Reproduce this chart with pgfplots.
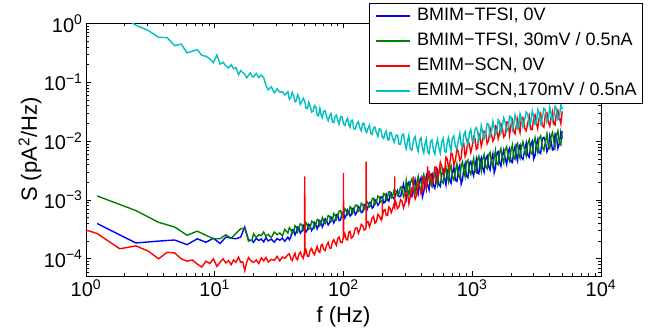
\documentclass[border=0pt]{standalone}
\usepackage{fontspec}
\setmainfont{Liberation Sans}
\usepackage{pgfplots}
\usepackage{pgfplotstable}
\pgfplotsset{compat=1.18}
\definecolor{mblue}{RGB}{0,0,255}
\definecolor{mgreen}{RGB}{0,128,0}
\definecolor{mred}{RGB}{255,0,0}
\definecolor{mcyan}{RGB}{0,191,191}
\newcommand{\ep}[1]{10\textsuperscript{#1}}

% BMIM-TFSI, 0V
\pgfplotstableread{
f S
1.22 3.98e-4
2.44 1.86e-4
3.66 2.00e-4
4.88 2.09e-4
6.10 1.74e-4
7.32 2.19e-4
8.54 1.91e-4
9.76 2.24e-4
11.0 1.82e-4
12.2 2.34e-4
13.4 2.24e-4
14.6 2.19e-4
15.9 2.34e-4
17.1 3.47e-4
18.3 2.09e-4
19.5 2.04e-4
20 1.91e-4
21 2.23e-4
22 2.05e-4
23 2.17e-4
24 1.94e-4
25 2.29e-4
26 2.01e-4
27.5 2.15e-4
29 1.92e-4
30.5 2.21e-4
32 2.07e-4
33.5 2.25e-4
35 1.98e-4
37 2.33e-4
38 2.11e-4
39 2.34e-4
40 3.13e-4
41 3.08e-4
42 2.54e-4
43 2.87e-4
44 3.47e-4
45 3.36e-4
46.2 2.72e-4
47.5 2.96e-4
48.7 3.67e-4
50 3.24e-4
51.2 2.85e-4
52.5 3.16e-4
53.7 3.85e-4
55 3.65e-4
56.5 3.02e-4
58 3.27e-4
59.5 4.12e-4
61 3.77e-4
62.5 3.24e-4
64 3.73e-4
65.5 4.42e-4
67 4.27e-4
68.5 3.47e-4
70 3.85e-4
72 4.79e-4
74 4.39e-4
76 3.76e-4
78 4.06e-4
80 5.13e-4
82 4.79e-4
84 4.07e-4
86 4.53e-4
88 5.62e-4
90 5.68e-4
92.5 4.47e-4
95 4.57e-4
97.5 6.17e-4
100 5.97e-4
102.5 4.90e-4
105 5.52e-4
107.5 6.76e-4
110 6.19e-4
112.5 5.31e-4
115 5.60e-4
117.5 7.16e-4
120 7.24e-4
123.5 5.62e-4
127 6.17e-4
130.5 7.76e-4
134 7.31e-4
137.5 6.10e-4
141 6.25e-4
144.5 8.32e-4
148 8.17e-4
151.5 6.61e-4
155 7.66e-4
159 9.12e-4
163 9.08e-4
167 7.24e-4
171 7.62e-4
175.5 1.01e-3
180 9.51e-4
185 8.13e-4
190 8.79e-4
195 1.12e-3
200 1.13e-3
205 8.91e-4
210 9.12e-4
215 1.22e-3
220 1.00e-3
225 9.55e-4
230 1.24e-3
235 1.30e-3
240 1.12e-3
247.5 1.04e-3
255 1.28e-3
262.5 1.45e-3
270 1.14e-3
277.5 1.15e-3
285 1.47e-3
292 1.86e-3
300 1.38e-3
307 1.07e-3
315 1.91e-3
322 2.02e-3
330 1.27e-3
340 1.15e-3
350 1.67e-3
360 2.19e-3
370 1.50e-3
380 1.26e-3
390 2.13e-3
400 2.40e-3
410 1.12e-3
420 1.36e-3
430 2.06e-3
440 2.57e-3
450 1.81e-3
462 1.48e-3
475 2.56e-3
487 2.79e-3
500 1.79e-3
512 1.58e-3
525 2.24e-3
537 2.99e-3
550 1.83e-3
565 1.70e-3
580 2.73e-3
595 3.20e-3
610 2.28e-3
625 1.80e-3
640 3.16e-3
655 3.39e-3
670 2.15e-3
685 1.93e-3
700 2.84e-3
720 3.63e-3
740 2.19e-3
760 2.07e-3
780 3.37e-3
800 3.89e-3
820 1.86e-3
840 2.21e-3
860 3.43e-3
880 4.17e-3
900 2.58e-3
925 2.40e-3
950 4.16e-3
975 4.52e-3
1000 3.06e-3
1025 2.57e-3
1050 3.73e-3
1075 4.90e-3
1100 2.88e-3
1125 2.79e-3
1150 4.43e-3
1175 5.19e-3
1200 3.61e-3
1235 2.95e-3
1270 4.99e-3
1305 5.62e-3
1340 3.76e-3
1375 3.24e-3
1410 4.94e-3
1445 6.10e-3
1480 2.89e-3
1515 3.47e-3
1550 6.17e-3
1590 6.61e-3
1630 4.31e-3
1670 3.76e-3
1710 5.53e-3
1755 7.08e-3
1800 5.11e-3
1850 4.03e-3
1900 6.56e-3
1950 7.59e-3
2000 4.47e-3
2050 4.32e-3
2100 6.68e-3
2150 8.13e-3
2200 5.57e-3
2250 4.62e-3
2300 7.92e-3
2350 8.61e-3
2400 5.41e-3
2475 4.90e-3
2550 6.93e-3
2625 9.33e-3
2700 5.78e-3
2775 5.31e-3
2850 8.87e-3
2925 1.00e-2
3000 4.98e-3
3075 5.69e-3
3150 9.04e-3
3225 1.07e-2
3300 6.47e-3
3400 6.17e-3
3500 1.10e-2
3600 1.16e-2
3700 9.89e-3
3800 6.61e-3
3900 7.64e-3
4000 1.24e-2
4100 9.82e-3
4200 7.08e-3
4300 7.19e-3
4400 1.33e-2
4500 1.26e-2
4625 7.59e-3
4750 8.99e-3
4875 1.43e-2
5000 1.10e-2
}\bluetab

% BMIM-TFSI, 30mV / 0.5nA
\pgfplotstableread{
f S
1.22 1.17e-3
2.44 6.61e-4
3.66 4.17e-4
4.88 3.47e-4
6.10 2.51e-4
7.32 2.95e-4
8.54 2.51e-4
9.76 2.19e-4
11.0 2.19e-4
12.2 2.57e-4
13.4 2.24e-4
14.6 2.69e-4
15.9 3.24e-4
17.1 3.31e-4
18.3 2.00e-4
19.5 2.09e-4
20 2.66e-4
21 2.32e-4
22 2.57e-4
23 2.48e-4
24 2.85e-4
25 2.40e-4
26 2.60e-4
27.5 2.29e-4
29 2.85e-4
30.5 2.57e-4
32 2.75e-4
33.5 2.45e-4
35 3.16e-4
37 2.75e-4
38 3.39e-4
39 3.13e-4
40 2.69e-4
41 2.85e-4
42 3.67e-4
43 3.47e-4
44 2.88e-4
45 3.35e-4
46.2 3.94e-4
47.5 3.80e-4
48.7 3.05e-4
50 3.31e-4
51.2 4.12e-4
52.5 3.72e-4
53.7 3.20e-4
55 3.31e-4
56.5 4.37e-4
58 4.22e-4
59.5 3.43e-4
61 3.85e-4
62.5 4.68e-4
64 4.62e-4
65.5 3.67e-4
67 3.94e-4
68.5 5.01e-4
70 4.47e-4
72 3.98e-4
74 4.42e-4
76 5.43e-4
78 5.25e-4
80 4.27e-4
82 4.52e-4
84 5.89e-4
86 5.55e-4
88 4.68e-4
90 5.35e-4
92.5 6.46e-4
95 6.61e-4
97.5 5.13e-4
100 5.55e-4
102.5 7.08e-4
105 6.58e-4
107.5 5.62e-4
110 5.92e-4
112.5 7.67e-4
115 7.24e-4
117.5 5.96e-4
120 6.55e-4
123.5 8.13e-4
127 8.20e-4
130.5 6.46e-4
134 6.61e-4
137.5 8.81e-4
141 8.43e-4
144.5 6.92e-4
148 7.80e-4
151.5 9.55e-4
155 8.75e-4
159 7.59e-4
163 8.09e-4
167 1.05e-3
171 1.07e-3
175.5 8.41e-4
180 9.33e-4
185 1.17e-3
190 1.11e-3
195 9.33e-4
200 9.68e-4
205 1.29e-3
210 1.26e-3
215 1.01e-3
220 1.16e-3
225 1.38e-3
230 1.37e-3
235 1.08e-3
240 1.13e-3
247.5 1.50e-3
255 1.41e-3
262.5 1.20e-3
270 1.30e-3
277.5 1.66e-3
285 1.67e-3
292 1.12e-3
300 1.23e-3
307 2.14e-3
315 1.45e-3
322 1.22e-3
330 1.95e-3
340 2.29e-3
350 1.66e-3
360 1.32e-3
370 1.95e-3
380 2.51e-3
390 1.55e-3
400 1.45e-3
410 2.29e-3
420 2.72e-3
430 2.00e-3
440 1.55e-3
450 2.69e-3
462 2.95e-3
475 1.91e-3
487 1.68e-3
500 2.40e-3
512 3.16e-3
525 2.19e-3
537 1.80e-3
550 2.95e-3
565 3.39e-3
580 2.04e-3
595 1.93e-3
610 2.88e-3
625 3.59e-3
640 2.51e-3
655 2.04e-3
670 3.47e-3
685 3.85e-3
700 2.51e-3
720 2.19e-3
740 3.09e-3
760 4.12e-3
780 2.57e-3
800 2.34e-3
820 3.72e-3
840 4.42e-3
860 3.16e-3
880 2.51e-3
900 4.37e-3
925 4.79e-3
950 3.09e-3
975 2.72e-3
1000 3.98e-3
1025 5.13e-3
1050 3.16e-3
1075 2.95e-3
1100 4.79e-3
1125 5.56e-3
1150 4.17e-3
1175 3.13e-3
1200 4.79e-3
1235 5.89e-3
1270 3.72e-3
1305 3.39e-3
1340 5.75e-3
1375 6.46e-3
1410 4.47e-3
1445 3.67e-3
1480 5.25e-3
1515 6.92e-3
1550 4.17e-3
1590 3.98e-3
1630 6.31e-3
1670 7.50e-3
1710 5.25e-3
1755 4.27e-3
1800 7.08e-3
1850 8.04e-3
1900 5.37e-3
1950 4.57e-3
2000 6.92e-3
2050 8.61e-3
2100 5.25e-3
2150 4.90e-3
2200 8.51e-3
2250 9.23e-3
2300 6.03e-3
2350 5.19e-3
2400 7.59e-3
2475 9.77e-3
2550 7.08e-3
2625 5.62e-3
2700 9.12e-3
2775 1.06e-2
2850 6.31e-3
2925 6.03e-3
3000 9.33e-3
3075 1.14e-2
3150 7.76e-3
3225 6.46e-3
3300 1.10e-2
3400 1.23e-2
3500 7.94e-3
3600 7.00e-3
3700 9.77e-3
3800 1.32e-2
3900 8.32e-3
4000 7.50e-3
4100 1.23e-2
4200 1.41e-2
4300 1.00e-2
4400 8.04e-3
4500 1.26e-2
4625 1.51e-2
4750 9.33e-3
4875 8.61e-3
5000 1.48e-2
}\greentab

% EMIM-SCN, 0V
\pgfplotstableread{
f S
0.61 4.37e-4
1.22 2.69e-4
1.83 1.48e-4
2.44 1.66e-4
3.05 1.35e-4
3.66 1.00e-4
4.27 1.29e-4
4.88 1.26e-4
5.49 1.00e-4
6.10 9.12e-5
6.71 9.55e-5
7.32 8.13e-5
7.93 7.24e-5
8.54 9.12e-5
9.15 8.32e-5
9.76 1.00e-4
10.4 7.41e-5
11.0 8.71e-5
11.6 1.00e-4
12.2 8.51e-5
12.8 9.33e-5
13.4 7.94e-5
14.0 9.55e-5
14.6 8.71e-5
15.3 1.07e-4
15.9 8.71e-5
16.5 8.91e-5
17.1 6.31e-5
17.7 8.71e-5
18.3 1.05e-4
18.9 9.55e-5
19.5 8.91e-5
20 8.71e-5
21 9.55e-5
22 8.32e-5
23 1.04e-4
24 9.23e-5
25 1.06e-4
26 8.81e-5
27.5 9.77e-5
29 9.44e-5
30.5 1.10e-4
32 9.23e-5
33.5 1.07e-4
35 1.02e-4
37 1.17e-4
38 1.22e-4
39 1.00e-4
40 9.33e-5
41 1.11e-4
42 1.24e-4
43 1.00e-4
44 9.66e-5
45 1.19e-4
46.2 1.30e-4
47.5 1.10e-4
48.7 1.02e-4
49.8 1.33e-4
50 2.51e-3
50.2 1.25e-4
51.2 1.40e-4
52.5 1.10e-4
53.7 1.10e-4
55 1.38e-4
56.5 1.50e-4
58 1.27e-4
59.5 1.17e-4
61 1.41e-4
62.5 1.62e-4
64 1.33e-4
65.5 1.29e-4
67 1.70e-4
68.5 1.76e-4
70 1.46e-4
72 1.38e-4
74 1.70e-4
76 1.91e-4
78 1.53e-4
80 1.51e-4
82 1.93e-4
84 2.11e-4
86 1.88e-4
88 1.70e-4
90 2.19e-4
92.5 2.34e-4
95 1.91e-4
97.5 1.88e-4
99.8 2.35e-4
100 2.88e-3
100.2 2.30e-4
102.5 2.63e-4
105 2.13e-4
107.5 2.09e-4
110 2.84e-4
112.5 2.92e-4
115 2.24e-4
117.5 2.34e-4
120 2.54e-4
123.5 3.31e-4
127 3.38e-4
130.5 2.72e-4
134 3.13e-4
137.5 3.85e-4
141 3.64e-4
144.5 3.09e-4
148 3.14e-4
149.8 3.50e-4
150 4.47e-3
150.2 3.60e-4
151.5 4.32e-4
155 4.29e-4
159 3.51e-4
163 4.10e-4
167 4.95e-4
171 5.25e-4
175.5 4.03e-4
180 4.28e-4
185 5.69e-4
190 5.30e-4
195 4.68e-4
199.8 5.27e-4
200 9.30e-4
200.2 5.20e-4
205 6.68e-4
210 6.85e-4
215 5.43e-4
220 5.50e-4
225 7.59e-4
230 7.21e-4
235 6.10e-4
240 6.90e-4
247.5 8.71e-4
249.8 8.00e-4
250 2.51e-3
250.2 8.20e-4
255 9.18e-4
262.5 7.16e-4
270 7.73e-4
277.5 1.02e-3
285 9.48e-4
292 7.33e-4
300 8.79e-4
307 1.38e-3
315 1.21e-3
322 8.61e-4
330 1.14e-3
340 1.62e-3
349.8 1.66e-3
350 2.51e-3
350.2 1.40e-3
360 1.04e-3
370 1.21e-3
380 2.00e-3
390 1.71e-3
400 1.27e-3
410 1.42e-3
420 2.45e-3
430 2.33e-3
440 1.55e-3
449.8 2.14e-3
450 3.72e-3
450.2 2.00e-3
462 2.95e-3
475 2.66e-3
487 1.88e-3
500 2.15e-3
512 3.63e-3
525 3.62e-3
537 2.29e-3
550 2.86e-3
565 4.42e-3
580 3.73e-3
595 2.82e-3
610 3.02e-3
625 5.37e-3
640 4.97e-3
655 3.35e-3
670 4.24e-3
685 6.31e-3
700 6.14e-3
720 3.94e-3
740 4.73e-3
760 7.41e-3
780 6.52e-3
800 4.68e-3
820 5.14e-3
840 8.91e-3
860 9.12e-3
880 5.50e-3
900 6.37e-3
925 1.02e-2
950 8.77e-3
975 6.38e-3
1000 8.28e-3
1025 1.19e-2
1050 1.11e-2
1075 7.24e-3
1100 7.59e-3
1125 1.33e-2
1150 1.19e-2
1175 8.13e-3
1200 9.91e-3
1235 1.48e-2
1270 1.44e-2
1305 9.02e-3
1340 1.03e-2
1375 1.66e-2
1410 1.32e-2
1445 1.00e-2
1480 1.10e-2
1515 1.82e-2
1550 1.73e-2
1590 1.10e-2
1630 1.37e-2
1670 1.97e-2
1710 1.76e-2
1755 1.17e-2
1800 1.26e-2
1850 2.11e-2
1900 2.09e-2
1950 1.26e-2
2000 1.93e-2
2050 2.26e-2
2100 1.46e-2
2150 1.33e-2
2200 1.87e-2
2250 2.37e-2
2300 1.69e-2
2350 1.40e-2
2400 2.34e-2
2475 2.51e-2
2550 1.67e-2
2625 1.50e-2
2700 2.05e-2
2775 2.66e-2
2850 1.58e-2
2925 1.57e-2
3000 2.49e-2
3075 2.79e-2
3150 2.03e-2
3225 1.64e-2
3300 2.42e-2
3400 2.92e-2
3500 1.83e-2
3600 1.72e-2
3700 2.95e-2
3800 3.05e-2
3900 2.12e-2
4000 1.80e-2
4100 2.59e-2
4200 3.20e-2
4300 1.95e-2
4400 1.88e-2
4500 2.92e-2
4625 3.35e-2
4750 2.51e-2
4875 1.97e-2
5000 3.22e-2
}\redtab

% EMIM-SCN, 170mV / 0.5nA
\pgfplotstableread{
f S
1.83 1.41
2.44 0.933
3.05 0.759
3.66 0.582
4.27 0.575
4.88 0.420
5.49 0.447
6.10 0.316
6.71 0.339
7.32 0.359
7.93 0.288
8.54 0.277
9.15 0.251
9.76 0.216
10.4 0.292
11.0 0.204
11.6 0.219
12.2 0.191
12.8 0.176
13.4 0.200
14.0 0.170
14.6 0.178
15.3 0.135
15.9 0.158
16.5 0.146
17.1 0.138
17.7 0.119
18.3 0.132
18.9 0.145
19.5 0.126
20 0.123
21 0.141
22 0.120
23 0.133
24 0.120
25 8.81e-2
26 7.41e-2
27.5 8.41e-2
29 6.61e-2
30.5 7.76e-2
32 6.84e-2
33.5 6.92e-2
35 6.10e-2
37 6.92e-2
38 5.13e-2
39 5.56e-2
40 6.76e-2
41 5.89e-2
42 4.68e-2
43 4.84e-2
44 6.17e-2
45 5.56e-2
46.2 4.22e-2
47.5 4.73e-2
48.7 5.37e-2
50 4.79e-2
51.2 3.59e-2
52.5 3.58e-2
53.7 4.62e-2
55 3.99e-2
56.5 3.13e-2
58 3.22e-2
59.5 4.03e-2
61 3.83e-2
62.5 2.75e-2
64 2.69e-2
65.5 3.63e-2
67 2.79e-2
68.5 2.51e-2
70 3.23e-2
72 3.27e-2
74 2.61e-2
76 2.24e-2
78 2.70e-2
80 2.95e-2
82 2.12e-2
84 2.07e-2
86 2.64e-2
88 2.79e-2
90 2.31e-2
92.5 1.95e-2
95 2.63e-2
97.5 2.60e-2
100 1.95e-2
102.5 1.84e-2
105 2.21e-2
107.5 2.45e-2
110 1.91e-2
112.5 1.72e-2
115 2.27e-2
117.5 2.29e-2
120 1.62e-2
123.5 1.60e-2
127 1.99e-2
130.5 2.14e-2
134 1.69e-2
137.5 1.50e-2
141 2.01e-2
144.5 2.00e-2
148 1.51e-2
151.5 1.40e-2
155 1.65e-2
159 1.86e-2
163 1.36e-2
167 1.30e-2
171 1.67e-2
175.5 1.74e-2
180 1.40e-2
185 1.20e-2
190 1.62e-2
195 1.58e-2
200 1.18e-2
205 1.11e-2
210 1.35e-2
215 1.48e-2
220 1.06e-2
225 1.04e-2
230 1.41e-2
235 1.38e-2
240 1.15e-2
247.5 9.55e-3
255 1.23e-2
262.5 1.27e-2
270 8.91e-3
277.5 8.91e-3
285 1.26e-2
292 1.33e-2
300 9.12e-3
307 7.50e-3
315 1.02e-2
322 1.26e-2
330 7.41e-3
340 7.00e-3
350 1.05e-2
360 1.19e-2
370 8.32e-3
380 6.68e-3
390 1.05e-2
400 1.14e-2
410 7.59e-3
420 6.38e-3
430 9.12e-3
440 1.08e-2
450 6.61e-3
462 6.10e-3
475 1.00e-2
487 1.05e-2
500 6.92e-3
512 6.03e-3
525 8.71e-3
537 1.07e-2
550 7.76e-3
565 6.24e-3
580 9.77e-3
595 1.11e-2
610 6.76e-3
625 6.46e-3
640 9.55e-3
655 1.15e-2
670 8.13e-3
685 6.84e-3
700 1.12e-2
720 1.23e-2
740 8.13e-3
760 7.41e-3
780 1.02e-2
800 1.35e-2
820 8.71e-3
840 8.04e-3
860 1.29e-2
880 1.45e-2
900 1.05e-2
925 8.71e-3
950 1.35e-2
975 1.58e-2
1000 1.00e-2
1025 9.44e-3
1050 1.58e-2
1075 1.70e-2
1100 1.48e-2
1125 1.02e-2
1150 1.17e-2
1175 1.84e-2
1200 1.48e-2
1235 1.10e-2
1270 1.38e-2
1305 2.00e-2
1340 1.91e-2
1375 1.20e-2
1410 1.41e-2
1445 2.16e-2
1480 1.70e-2
1515 1.29e-2
1550 1.38e-2
1590 2.32e-2
1630 2.09e-2
1670 1.38e-2
1710 1.78e-2
1755 2.48e-2
1800 2.09e-2
1850 1.48e-2
1900 1.66e-2
1950 2.66e-2
2000 2.57e-2
2050 1.57e-2
2100 1.91e-2
2150 2.79e-2
2200 2.29e-2
2250 1.64e-2
2300 1.78e-2
2350 2.92e-2
2400 2.57e-2
2475 1.74e-2
2550 2.29e-2
2625 3.13e-2
2700 2.88e-2
2775 1.84e-2
2850 2.14e-2
2925 3.27e-2
3000 2.63e-2
3075 1.93e-2
3150 2.04e-2
3225 3.43e-2
3300 3.09e-2
3400 2.02e-2
3500 2.51e-2
3600 3.59e-2
3700 3.39e-2
3800 2.11e-2
3900 2.40e-2
4000 3.76e-2
4100 2.88e-2
4200 2.21e-2
4300 2.63e-2
4400 3.94e-2
4500 3.63e-2
4625 2.32e-2
4750 2.51e-2
4875 4.12e-2
5000 3.47e-2
}\cyantab

\begin{document}
\begin{tikzpicture}
\path[use as bounding box] (-86pt,-56pt) rectangle (578pt,276pt);
\begin{axis}[
  at={(0pt,0pt)}, anchor=south west,
  scale only axis, width=515pt, height=252.5pt,
  xmode=log, ymode=log,
  xmin=1, xmax=1e4, ymin=5.1e-5, ymax=1,
  xtick={1,10,100,1000,10000},
  xticklabels={\ep{0},\ep{1},\ep{2},\ep{3},\ep{4}},
  ytick={1e-4,1e-3,1e-2,1e-1,1},
  yticklabels={\ep{−4},\ep{−3},\ep{−2},\ep{−1},\ep{0}},
  minor xtick={2,3,4,5,6,7,8,9,20,30,40,50,60,70,80,90,200,300,400,500,600,700,800,900,2000,3000,4000,5000,6000,7000,8000,9000},
  minor ytick={6e-5,7e-5,8e-5,9e-5,2e-4,3e-4,4e-4,5e-4,6e-4,7e-4,8e-4,9e-4,2e-3,3e-3,4e-3,5e-3,6e-3,7e-3,8e-3,9e-3,2e-2,3e-2,4e-2,5e-2,6e-2,7e-2,8e-2,9e-2,0.2,0.3,0.4,0.5,0.6,0.7,0.8,0.9},
  tick align=inside,
  major tick length=5pt, minor tick length=3pt,
  axis line style={black, line width=0.8pt},
  tick style={black, line width=0.6pt},
  tick label style={font=\fontsize{20}{24}\selectfont},
  xlabel={f (Hz)},
  ylabel={S (pA\textsuperscript{2}/Hz)},
  every axis x label/.style={at={(axis description cs:0.5,-0.119)}, anchor=north, inner sep=0pt, font=\fontsize{22}{26}\selectfont},
  every axis y label/.style={at={(axis description cs:-0.086,0.5)}, rotate=90, anchor=south, inner sep=0pt, font=\fontsize{22}{26}\selectfont},
  legend style={at={(1.0816,1.081)}, anchor=north east, draw=black, line width=0.8pt, fill=white,
    font=\fontsize{18}{21}\selectfont, inner xsep=6pt, inner ysep=4pt, row sep=8pt, column sep=6pt,
    nodes={inner sep=0pt, text height=13pt, text depth=4pt}},
  legend cell align=left,
  legend image code/.code={\draw[#1, line width=1.4pt] (0pt,0pt) -- (34pt,0pt);},
  every axis plot/.append style={line width=1.4pt, no markers},
]
\addplot[draw=mblue] table[x=f, y=S] {\bluetab};
\addplot[draw=mgreen] table[x=f, y=S] {\greentab};
\addplot[draw=mred] table[x=f, y=S] {\redtab};
\addplot[draw=mcyan] table[x=f, y=S] {\cyantab};
\legend{{BMIM−TFSI, 0V},{BMIM−TFSI, 30mV / 0.5nA},{EMIM−SCN, 0V},{EMIM−SCN,170mV / 0.5nA}}
\end{axis}
\end{tikzpicture}
\end{document}
